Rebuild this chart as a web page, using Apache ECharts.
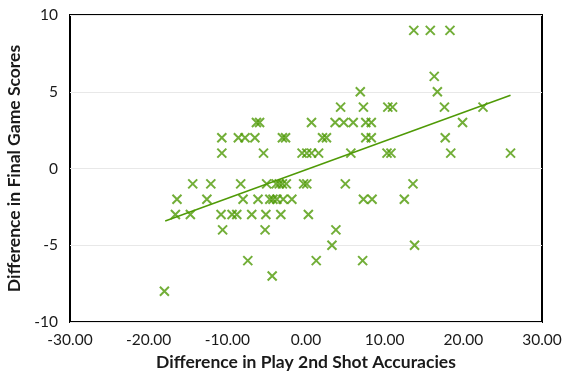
<!DOCTYPE html>
<html><head><meta charset="utf-8">
<script src="https://cdn.jsdelivr.net/npm/echarts@6/dist/echarts.min.js"></script>
<style>html,body{margin:0;padding:0;background:#fff}#c{width:563px;height:372px}</style>
</head><body><div id="c"></div>
<script>
// Rows of points: each score difference with the accuracy differences observed at that score
const scoreRows = [9, 6, 5, 4, 3, 2, 1, -1, -2, -3, -4, -5, -6, -7, -8];
const accuracyByRow = [
  [13.7, 15.8, 18.3],
  [16.3],
  [6.9, 16.7],
  [4.4, 7.3, 10.4, 11.0, 17.6, 22.5],
  [-6.3, -5.9, 0.7, 3.7, 4.8, 6.0, 7.6, 8.3, 19.9],
  [-10.7, -8.6, -7.75, -6.5, -3.0, -2.6, 2.1, 2.6, 7.6, 8.3, 17.7],
  [-10.7, -5.4, -0.5, 0.1, 0.7, 1.6, 5.7, 10.3, 10.8, 18.4, 26.0],
  [-14.4, -12.1, -8.3, -5.0, -3.8, -3.4, -3.0, -2.5, -0.3, 0.1, 5.0, 13.6],
  [-16.4, -12.6, -8.0, -6.1, -4.6, -4.2, -3.7, -2.9, -1.8, 7.3, 8.4, 12.5],
  [-16.6, -14.7, -10.8, -9.4, -8.8, -6.9, -5.1, -3.2, 0.3],
  [-10.6, -5.2, 3.8],
  [3.3, 13.8],
  [-7.4, 1.3, 7.2],
  [-4.3],
  [-18.0]
];
// Trendline endpoints
const trendX = [-17.9, 26.0];
const trendY = [-3.42, 4.77];
const xTicks = [-30, -20, -10, 0, 10, 20, 30];
const yTicks = [-10, -5, 0, 5, 10];

const points = [];
scoreRows.forEach((s, i) => accuracyByRow[i].forEach(a => points.push([a, s])));
const trend = trendX.map((x, i) => [x, trendY[i]]);

const green = '#4f9a06';
const font = 'Lato, "Noto Sans", sans-serif';
const chart = echarts.init(document.getElementById('c'));
chart.setOption({
  animation: false,
  grid: {left: 70, right: 21, top: 15, bottom: 50, outerBoundsMode: 'none', containLabel: false,
         show: true, borderColor: '#000', borderWidth: 2, backgroundColor: 'transparent'},
  xAxis: {
    type: 'value', min: xTicks[0], max: xTicks[xTicks.length - 1], interval: 10,
    axisLine: {show: false}, axisTick: {show: false}, splitLine: {show: false},
    axisLabel: {formatter: v => v.toFixed(2), color: '#1a1a1a', fontSize: 15.5, fontFamily: font, margin: 10},
    name: 'Difference in Play 2nd Shot Accuracies', nameLocation: 'middle', nameGap: 31,
    nameTextStyle: {color: '#1a1a1a', fontSize: 17.5, fontWeight: 'bold', fontFamily: font}
  },
  yAxis: {
    type: 'value', min: yTicks[0], max: yTicks[yTicks.length - 1], interval: 5,
    axisLine: {show: false}, axisTick: {show: false},
    splitLine: {show: true, lineStyle: {color: '#e8e8e8', width: 1}},
    axisLabel: {color: '#1a1a1a', fontSize: 15.5, fontFamily: font, margin: 12},
    name: 'Difference in Final Game Scores', nameLocation: 'middle', nameGap: 43,
    nameTextStyle: {color: '#1a1a1a', fontSize: 17.5, fontWeight: 'bold', fontFamily: font}
  },
  series: [
    {
      type: 'scatter', data: points,
      symbol: 'path://M0,0L10,10M10,0L0,10', symbolSize: 9,
      itemStyle: {color: 'transparent', borderColor: green, borderWidth: 2}
    },
    {
      type: 'line', data: trend, symbol: 'none', z: 1,
      lineStyle: {color: green, width: 1.5}
    }
  ]
});
</script></body></html>
